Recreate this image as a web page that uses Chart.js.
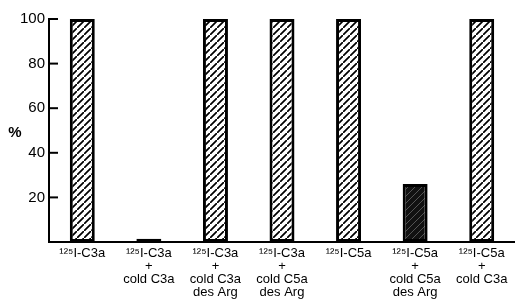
<!DOCTYPE html>
<html>
<head>
<meta charset="utf-8">
<script src="https://cdn.jsdelivr.net/npm/chart.js@4/dist/chart.umd.min.js"></script>
<style>
  html, body { margin: 0; padding: 0; background: #fff; }
  #wrap { width: 515px; height: 301px; }
</style>
</head>
<body>
<div id="wrap"><canvas id="chart"></canvas></div>
<script>
const categories = [
  ['\u00b9\u00b2\u2075I-C3a'],
  ['\u00b9\u00b2\u2075I-C3a', '+', 'cold C3a'],
  ['\u00b9\u00b2\u2075I-C3a', '+', 'cold C3a', 'des Arg'],
  ['\u00b9\u00b2\u2075I-C3a', '+', 'cold C5a', 'des Arg'],
  ['\u00b9\u00b2\u2075I-C5a'],
  ['\u00b9\u00b2\u2075I-C5a', '+', 'cold C5a', 'des Arg'],
  ['\u00b9\u00b2\u2075I-C5a', '+', 'cold C3a']
];
const percentBound = [100, 1.5, 100, 100, 100, 26, 100];
const dark = [false, false, false, false, false, true, false];
const yTicks = [20, 40, 60, 80, 100];

// diagonal hatch fill, like the printed figure
function hatch(isDark) {
  const s = 7;
  const c = document.createElement('canvas');
  c.width = s; c.height = s;
  const g = c.getContext('2d');
  g.fillStyle = isDark ? '#111' : '#fff';
  g.fillRect(0, 0, s, s);
  g.strokeStyle = isDark ? '#666' : '#000';
  g.lineWidth = isDark ? 0.8 : 1.7;
  g.beginPath();
  g.moveTo(-1, s + 1); g.lineTo(s + 1, -1);
  g.moveTo(-s - 1, 1); g.lineTo(1, -s - 1);
  g.moveTo(s - 1, 2 * s + 1); g.lineTo(2 * s + 1, s - 1);
  g.stroke();
  return g.createPattern(c, 'repeat');
}

const inwardTicks = {
  id: 'inwardTicks',
  afterDraw(chart) {
    const ctx = chart.ctx;
    const y = chart.scales.y;
    const left = chart.chartArea.left;
    ctx.save();
    ctx.strokeStyle = '#000';
    ctx.lineWidth = 2;
    yTicks.forEach(v => {
      const py = y.getPixelForValue(v);
      ctx.beginPath();
      ctx.moveTo(left, py);
      ctx.lineTo(left + 9, py);
      ctx.stroke();
    });
    ctx.fillStyle = '#000';
    ctx.font = 'bold 15px "Liberation Sans", Arial, sans-serif';
    ctx.textAlign = 'center';
    ctx.textBaseline = 'middle';
    ctx.fillText('%', 15, 133);
    ctx.restore();
  }
};

new Chart(document.getElementById('chart'), {
  type: 'bar',
  data: {
    labels: categories,
    datasets: [{
      data: percentBound,
      backgroundColor: dark.map(d => hatch(d)),
      borderColor: '#000',
      borderWidth: 3,
      borderSkipped: false,
      categoryPercentage: 1,
      barPercentage: 0.375
    }]
  },
  options: {
    responsive: true,
    maintainAspectRatio: false,
    animation: false,
    layout: { padding: { top: 19, right: 0, left: 0, bottom: 0 } },
    plugins: { legend: { display: false }, tooltip: { enabled: false } },
    scales: {
      x: {
        grid: { display: false, drawTicks: false },
        border: { display: true, color: '#000', width: 2 },
        ticks: {
          color: '#000',
          padding: 5,
          maxRotation: 0,
          autoSkip: false,
          font: { family: '"Liberation Sans", Arial, sans-serif', size: 13, lineHeight: 1.0 }
        },
        afterFit(scale) { scale.height = 59; }
      },
      y: {
        min: 0,
        max: 100,
        grid: { display: false, drawTicks: false },
        border: { display: true, color: '#000', width: 2 },
        ticks: {
          stepSize: 20,
          color: '#000',
          padding: 4,
          font: { family: '"Liberation Sans", Arial, sans-serif', size: 15 },
          callback: v => (v === 0 ? '' : v)
        },
        afterFit(scale) { scale.width = 49; }
      }
    }
  },
  plugins: [inwardTicks]
});
</script>
</body>
</html>
